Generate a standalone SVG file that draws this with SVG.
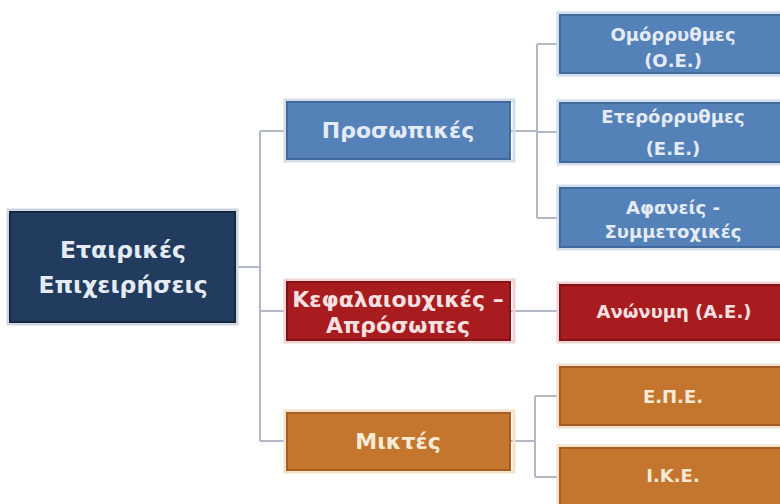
<svg xmlns="http://www.w3.org/2000/svg" width="780" height="504" viewBox="0 0 780 504">
<style>
.t{font-family:"DejaVu Sans","Open Sans",sans-serif;font-weight:bold;text-anchor:middle;dominant-baseline:central}
.lg{font-size:23.5px}
.md{font-size:22px}
.sm{font-size:18px}
.navy{fill:#213c5e;stroke:#15263d;stroke-width:2}
.blue{fill:#5481b8;stroke:#41699b;stroke-width:2}
.red{fill:#a81c20;stroke:#801417;stroke-width:2}
.orange{fill:#c4762f;stroke:#a65f22;stroke-width:2}
.hb{fill:none;stroke:#d3deeb;stroke-width:3}
.hr{fill:none;stroke:#f2d2d2;stroke-width:3}
.ho{fill:none;stroke:#f5e0c8;stroke-width:3}
.hn{fill:none;stroke:#d0d6df;stroke-width:3}
.conn{fill:none;stroke:#b3b8c6;stroke-width:2}
.wb{fill:#e4ebf5}
.wr{fill:#f7e0e0}
.wo{fill:#f9ead6}
</style>
<rect width="780" height="504" fill="#ffffff"/>
<g id="connectors" class="conn">
<path d="M236 267 H260 M260 131 V441 M260 131 H286 M260 311 H286 M260 441 H286"/>
<path d="M511 131 H537 M537 44 V218 M537 44 H561 M537 132 H561 M537 218 H561"/>
<path d="M511 311 H561"/>
<path d="M511 441 H535 M535 396 V477 M535 396 H561 M535 477 H561"/>
</g>
<g id="root">
<rect class="hn" x="8" y="210" width="229" height="114"/>
<rect class="navy" x="10" y="212" width="225" height="110"/>
<text class="t lg wb" x="123" y="250">Εταιρικές</text>
<text class="t lg wb" x="123" y="285">Επιχειρήσεις</text>
</g>
<g id="prosopikes">
<rect class="hb" x="285" y="100" width="229" height="61"/>
<rect class="blue" x="287" y="102" width="223" height="57"/>
<text class="t md wb" x="398" y="130">Προσωπικές</text>
</g>
<g id="kefalaiouxikes">
<rect class="hr" x="285" y="280" width="229" height="62"/>
<rect class="red" x="287" y="282" width="223" height="58"/>
<text class="t md wr" x="398" y="299">Κεφαλαιουχικές –</text>
<text class="t md wr" x="398" y="325">Απρόσωπες</text>
</g>
<g id="miktes">
<rect class="ho" x="285" y="411" width="229" height="61"/>
<rect class="orange" x="287" y="413" width="223" height="57"/>
<text class="t md wo" x="398" y="441">Μικτές</text>
</g>
<g id="omorrythmes">
<rect class="hb" x="558" y="13" width="229" height="62"/>
<rect class="blue" x="560" y="15" width="225" height="58"/>
<text class="t sm wb" x="673" y="34">Ομόρρυθμες</text>
<text class="t sm wb" x="673" y="60">(Ο.Ε.)</text>
</g>
<g id="eterorrythmes">
<rect class="hb" x="558" y="101" width="229" height="63"/>
<rect class="blue" x="560" y="103" width="225" height="59"/>
<text class="t sm wb" x="673" y="116">Ετερόρρυθμες</text>
<text class="t sm wb" x="673" y="148">(Ε.Ε.)</text>
</g>
<g id="afaneis">
<rect class="hb" x="558" y="186" width="229" height="63"/>
<rect class="blue" x="560" y="188" width="225" height="59"/>
<text class="t sm wb" x="673" y="207">Αφανείς -</text>
<text class="t sm wb" x="673" y="231">Συμμετοχικές</text>
</g>
<g id="anonymi">
<rect class="hr" x="558" y="283" width="229" height="59"/>
<rect class="red" x="560" y="285" width="225" height="55"/>
<text class="t sm wr" x="674" y="311">Ανώνυμη (Α.Ε.)</text>
</g>
<g id="epe">
<rect class="ho" x="558" y="365" width="229" height="62"/>
<rect class="orange" x="560" y="367" width="225" height="58"/>
<text class="t sm wo" x="673" y="396">Ε.Π.Ε.</text>
</g>
<g id="ike">
<rect class="ho" x="558" y="446" width="229" height="62"/>
<rect class="orange" x="560" y="448" width="225" height="58"/>
<text class="t sm wo" x="673" y="475">Ι.Κ.Ε.</text>
</g>
</svg>
